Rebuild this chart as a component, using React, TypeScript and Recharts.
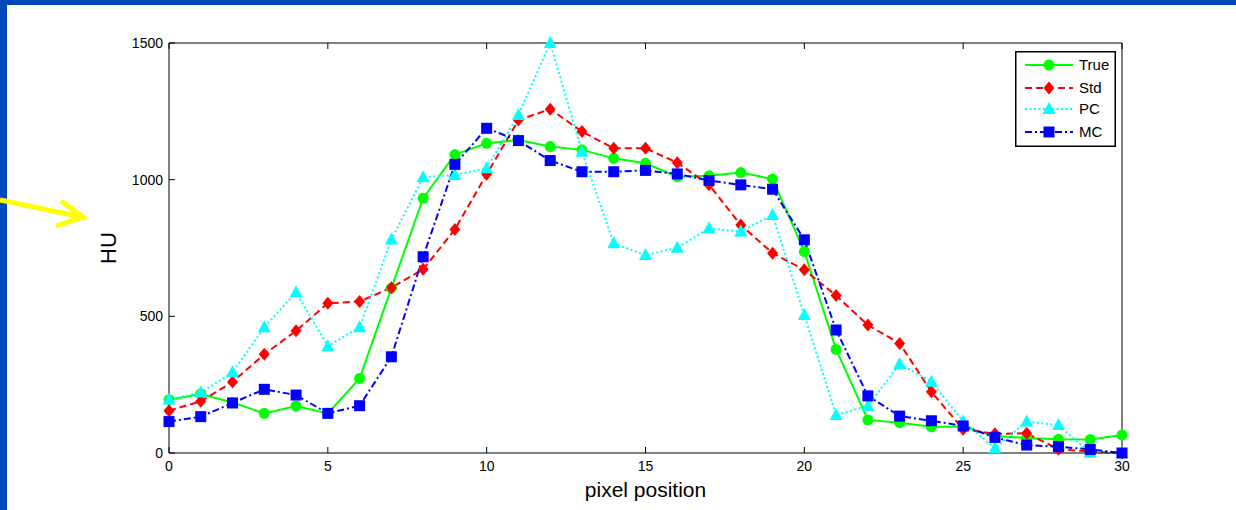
import React from 'react';
import { LineChart, Line, XAxis, YAxis, Legend } from 'recharts';

// pixel index along the profile
const positions = [
  0, 1, 2, 3, 4, 5, 6, 7, 8, 9, 10, 11, 12, 13, 14, 15, 16, 17, 18, 19, 20, 21, 22, 23, 24, 25, 26,
  27, 28, 29, 30,
];
const trueHU = [
  195, 216, 185, 145, 172, 145, 273, 603, 932, 1092, 1133, 1145, 1121, 1109, 1078, 1060, 1011, 1014,
  1026, 1002, 737, 379, 121, 111, 96, 96, 62, 55, 50, 49, 66,
];
const stdHU = [
  155, 189, 260, 361, 447, 548, 554, 605, 672, 818, 1020, 1218, 1258, 1176, 1115, 1115, 1062, 981,
  834, 731, 670, 576, 468, 401, 224, 87, 70, 72, 14, 5, 0,
];
const pcHU = [
  196, 221, 295, 460, 588, 391, 460, 781, 1009, 1017, 1042, 1237, 1500, 1102, 767, 724, 751, 822,
  810, 871, 505, 139, 172, 326, 261, 115, 17, 115, 102, 1, 0,
];
const mcHU = [
  115, 133, 183, 233, 212, 145, 173, 352, 718, 1056, 1188, 1143, 1070, 1029, 1029, 1034, 1021, 997,
  981, 965, 780, 450, 209, 135, 118, 99, 57, 29, 23, 13, 0,
];
const xTicks = [0, 5, 10, 15, 20, 25, 30];
const yTicks = [0, 500, 1000, 1500];

const data = positions.map((p, i) => ({
  pos: p,
  True: trueHU[i],
  Std: stdHU[i],
  PC: pcHU[i],
  MC: mcHU[i],
}));

const FONT = '"Liberation Sans", Arial, Helvetica, sans-serif';

type MarkerProps = { cx: number; cy: number };

const CircleMark = ({ cx, cy }: MarkerProps) => <circle cx={cx} cy={cy} r={5.5} fill="#00ff00" />;
const DiamondMark = ({ cx, cy }: MarkerProps) => (
  <polygon
    points={`${cx},${cy - 6.5} ${cx + 5.5},${cy} ${cx},${cy + 6.5} ${cx - 5.5},${cy}`}
    fill="#ff0000"
  />
);
const TriangleMark = ({ cx, cy }: MarkerProps) => (
  <polygon points={`${cx},${cy - 7} ${cx + 6.5},${cy + 5} ${cx - 6.5},${cy + 5}`} fill="#00ffff" />
);
const SquareMark = ({ cx, cy }: MarkerProps) => (
  <rect x={cx - 5.5} y={cy - 5.5} width={11} height={11} fill="#0000ff" />
);

const series = [
  { key: 'True', color: '#00ff00', dash: undefined, Mark: CircleMark },
  { key: 'Std', color: '#ff0000', dash: '7 4', Mark: DiamondMark },
  { key: 'PC', color: '#00ffff', dash: '2 2.5', Mark: TriangleMark },
  { key: 'MC', color: '#0000ff', dash: '7 3 2 3', Mark: SquareMark },
];

function LegendBox() {
  const rows = [14, 37, 58, 81];
  return (
    <svg width={101} height={96} style={{ display: 'block' }}>
      <rect x={0.75} y={0.75} width={99.5} height={94.5} fill="#fff" stroke="#000" strokeWidth={1.5} />
      {series.map((s, i) => (
        <g key={s.key}>
          <line
            x1={10}
            x2={58}
            y1={rows[i]}
            y2={rows[i]}
            stroke={s.color}
            strokeWidth={2}
            strokeDasharray={s.dash}
          />
          <s.Mark cx={34} cy={rows[i]} />
          <text x={64} y={rows[i] + 5} fontSize={15} fontFamily={FONT} fill="#000">
            {s.key}
          </text>
        </g>
      ))}
    </svg>
  );
}

export default function App() {
  const tickStyle = { fill: '#000', fontSize: 14, fontFamily: FONT };
  return (
    <div
      style={{
        position: 'fixed',
        left: 0,
        top: 0,
        width: 1236,
        height: 510,
        background: '#0047bb',
        overflow: 'hidden',
      }}
    >
      <div
        style={{ position: 'absolute', left: 7, top: 5, width: 1229, height: 505, background: '#fff' }}
      />
      {/* yellow pointer arrow from the slide */}
      <svg width={100} height={60} style={{ position: 'absolute', left: 0, top: 185 }}>
        <polyline points="0,15 82,32" fill="none" stroke="#ffff00" strokeWidth={5} />
        <polyline
          points="61,16 83,32 56,41"
          fill="none"
          stroke="#ffff00"
          strokeWidth={5}
          strokeLinejoin="miter"
        />
      </svg>
      <div style={{ position: 'absolute', left: 0, top: 0 }}>
        <LineChart
          width={1236}
          height={510}
          data={data}
          margin={{ top: 33, right: 104, bottom: 7, left: 99 }}
        >
          <XAxis
            dataKey="pos"
            type="number"
            domain={[0, 30]}
            ticks={xTicks}
            height={50}
            tickSize={-6}
            tickMargin={14}
            tick={tickStyle}
            axisLine={{ stroke: '#000' }}
            tickLine={{ stroke: '#000' }}
            label={{
              value: 'pixel position',
              position: 'insideBottom',
              offset: 6,
              style: { fill: '#000', fontSize: 21, fontFamily: FONT },
            }}
          />
          <XAxis
            xAxisId="top"
            orientation="top"
            dataKey="pos"
            type="number"
            domain={[0, 30]}
            ticks={xTicks}
            height={10}
            tickSize={-6}
            tickFormatter={() => ''}
            axisLine={{ stroke: '#000' }}
            tickLine={{ stroke: '#000' }}
          />
          <YAxis
            type="number"
            domain={[0, 1500]}
            ticks={yTicks}
            width={70}
            tickSize={-6}
            tickMargin={12}
            tick={tickStyle}
            axisLine={{ stroke: '#000' }}
            tickLine={{ stroke: '#000' }}
            label={{
              value: 'HU',
              angle: -90,
              position: 'insideLeft',
              offset: 9,
              style: { fill: '#000', fontSize: 22, fontFamily: FONT, textAnchor: 'middle' },
            }}
          />
          <YAxis
            yAxisId="right"
            orientation="right"
            type="number"
            domain={[0, 1500]}
            ticks={yTicks}
            width={10}
            tickSize={-6}
            tickFormatter={() => ''}
            axisLine={{ stroke: '#000' }}
            tickLine={{ stroke: '#000' }}
          />
          <Legend
            layout="vertical"
            align="center"
            verticalAlign="middle"
            content={() => <LegendBox />}
            wrapperStyle={{ position: 'absolute', left: 1015, top: 51, width: 101, height: 96 }}
          />
          {series.map((s) => (
            <Line
              key={s.key}
              type="linear"
              dataKey={s.key}
              stroke={s.color}
              strokeWidth={2}
              strokeDasharray={s.dash}
              isAnimationActive={false}
              dot={(p: any) => <s.Mark key={`${s.key}-${p.index}`} cx={p.cx} cy={p.cy} />}
              activeDot={false}
            />
          ))}
        </LineChart>
      </div>
    </div>
  );
}
